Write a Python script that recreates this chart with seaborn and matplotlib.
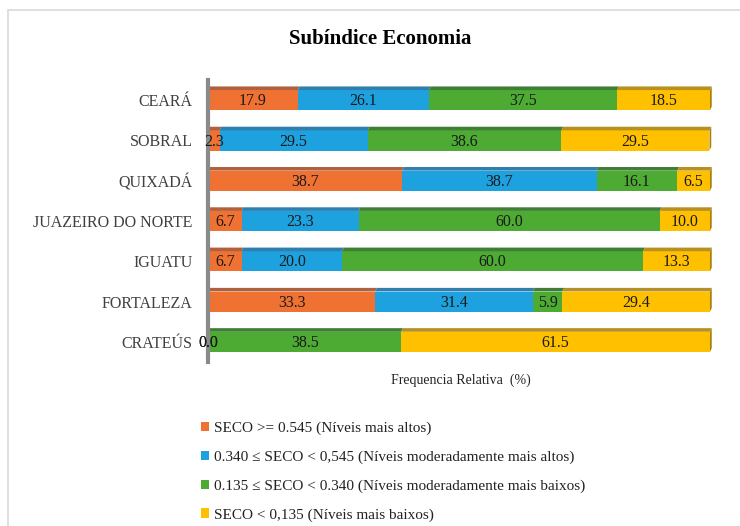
import matplotlib
matplotlib.use("Agg")
import matplotlib.pyplot as plt
import seaborn as sns
import pandas as pd
import numpy as np
from matplotlib.patches import Rectangle, Polygon

cities = ["CEARÁ", "SOBRAL", "QUIXADÁ", "JUAZEIRO DO NORTE", "IGUATU", "FORTALEZA", "CRATEÚS"]
alto = [17.9, 2.3, 38.7, 6.7, 6.7, 33.3, 0.0]
mod_alto = [26.1, 29.5, 38.7, 23.3, 20.0, 31.4, 0.0]
mod_baixo = [37.5, 38.6, 16.1, 60.0, 60.0, 5.9, 38.5]
baixo = [18.5, 29.5, 6.5, 10.0, 13.3, 29.4, 61.5]
series_labels = [
    "SECO >= 0.545 (Níveis mais altos)",
    "0.340 ≤ SECO < 0,545 (Níveis moderadamente mais altos)",
    "0.135 ≤ SECO < 0.340 (Níveis moderadamente mais baixos)",
    "SECO < 0,135 (Níveis mais baixos)",
]
colors = ["#F07232", "#1EA1DF", "#4DAA32", "#FFC000"]
top_colors = ["#B0603C", "#2F7FAE", "#3F7E35", "#B89020"]

sns.set_theme(style="white")
plt.rcParams["font.family"] = ["Liberation Serif", "DejaVu Serif"]

fig = plt.figure(figsize=(7.4, 5.26), dpi=100)
ax = fig.add_axes([208/740, 1-362/526, 505/740, 282/526])

series = [alto, mod_alto, mod_baixo, baixo]
cum = np.cumsum(np.array(series), axis=0)
df = pd.DataFrame({"city": cities})
for i in range(4):
    df[f"c{i}"] = cum[i]

bar_h = 0.5
for i in reversed(range(4)):
    sns.barplot(data=df, y="city", x=f"c{i}", order=cities, color=colors[i],
                width=bar_h, saturation=1, ax=ax, orient="h", linewidth=0, zorder=2)

strip = 0.09
for j, c in enumerate(cities):
    left = 0.0
    top = j - bar_h / 2
    for i in range(4):
        v = series[i][j]
        if v > 0:
            poly = Polygon([(left, top), (left + v, top), (left + v + 0.35, top - strip),
                            (left + 0.35, top - strip)], closed=True,
                           facecolor=top_colors[i], edgecolor="none", zorder=3)
            ax.add_patch(poly)
        ax.text(left + v / 2, j + 0.03, f"{v:.1f}", ha="center", va="center",
                fontsize=11.5, color="#1a1a1a", zorder=8)
        left += v
    cap = Polygon([(left, top), (left + 0.35, top - strip), (left + 0.35, j + bar_h / 2 - strip),
                   (left, j + bar_h / 2)], closed=True, facecolor="#A88010",
                  edgecolor="none", zorder=3)
    ax.add_patch(cap)

ax.set_xlim(0, 100.6)
ax.set_ylim(6.5, -0.5)
ax.set_xticks([])
ax.set_ylabel("")
ax.set_xlabel("Frequencia Relativa  (%)", fontsize=10, color="#222222", labelpad=8)
ax.tick_params(axis="y", length=0, labelsize=11.5, labelcolor="#404040", pad=11)
for s in ["top", "right", "bottom"]:
    ax.spines[s].set_visible(False)
ax.spines["left"].set_color("#8a8a8a")
ax.spines["left"].set_linewidth(3)
ax.spines["left"].set_zorder(6)

fig.text(380/740, 1-39/526, "Subíndice Economia", ha="center", va="center",
         fontsize=15, fontweight="bold", color="black")

handles = [Rectangle((0, 0), 1, 1, facecolor=col, edgecolor="none") for col in colors]
fig.legend(handles, series_labels, loc="upper left", bbox_to_anchor=(187/740, 1-408/526),
           frameon=False, fontsize=11, handlelength=0.55, handleheight=0.55,
           handletextpad=0.3, labelspacing=1.0, labelcolor="#222222")

fig.patches.append(Rectangle((8/740, -0.1), 1.2, 1 - 10/526 + 0.1, transform=fig.transFigure,
                             fill=False, edgecolor="#d9d9d9", linewidth=1.2))

fig.savefig("out.png", dpi=100)
